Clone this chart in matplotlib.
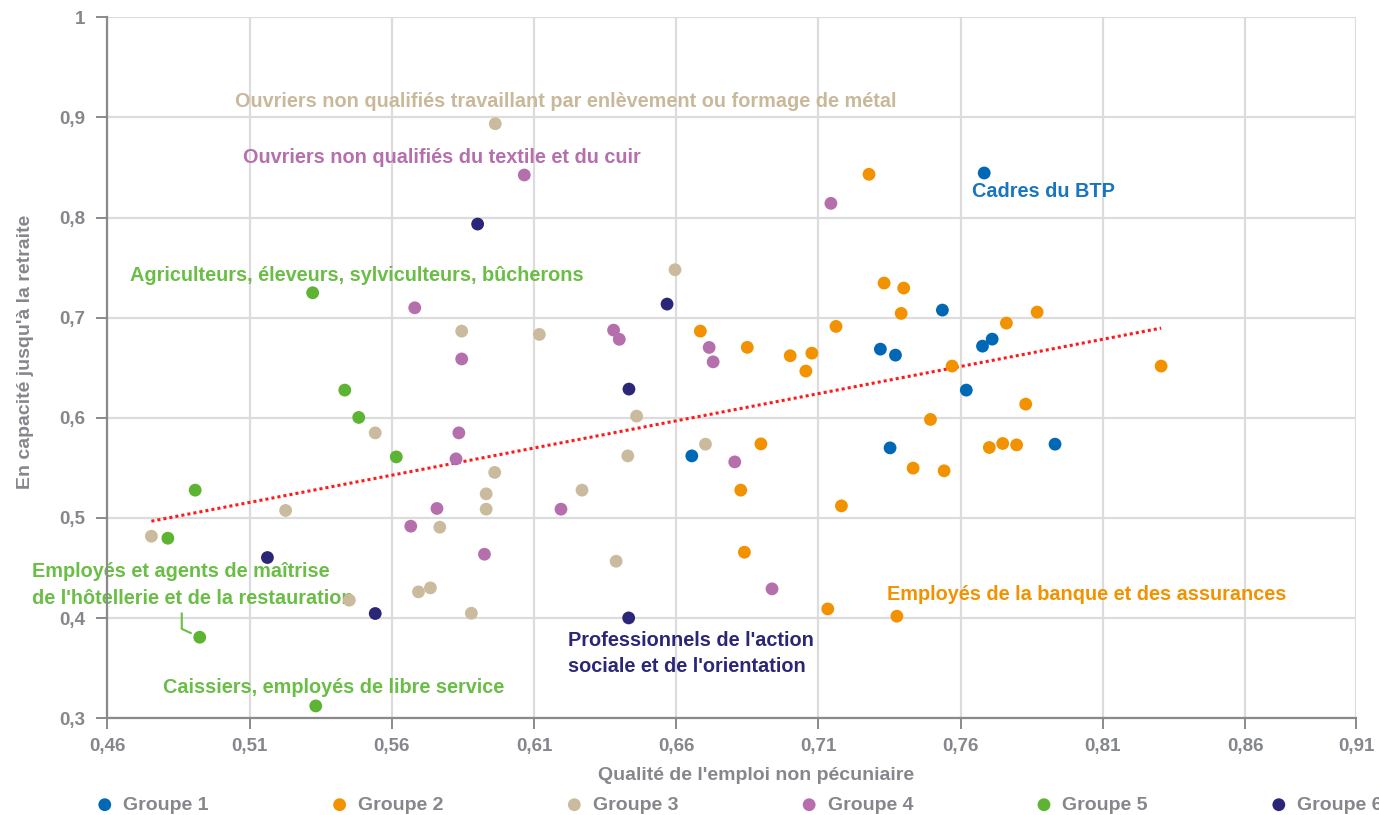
import numpy as np
import matplotlib
matplotlib.use("Agg")
import matplotlib.pyplot as plt

plt.rcParams['font.family'] = ['Liberation Sans', 'DejaVu Sans']

# 1. DATA (qualité de l'emploi, capacité jusqu'à la retraite)
groups = ['Groupe 1', 'Groupe 2', 'Groupe 3', 'Groupe 4', 'Groupe 5', 'Groupe 6']

g1_x = [0.7683, 0.7536, 0.7318, 0.7371, 0.7677, 0.7711, 0.7620, 0.6655, 0.7352, 0.7932]
g1_y = [0.8445, 0.7076, 0.6686, 0.6626, 0.6716, 0.6786, 0.6277, 0.5620, 0.5700, 0.5737]

g2_x = [0.7278, 0.7331, 0.7400, 0.7391, 0.7162, 0.6685, 0.6850, 0.7001, 0.7077,
        0.7056, 0.7570, 0.7761, 0.7869, 0.8305, 0.7829, 0.7494, 0.6898, 0.7701,
        0.7748, 0.7797, 0.7433, 0.7542, 0.6827, 0.7181, 0.6840, 0.7133, 0.7376]
g2_y = [0.8432, 0.7346, 0.7296, 0.7043, 0.6913, 0.6866, 0.6704, 0.6620, 0.6646,
        0.6467, 0.6517, 0.6946, 0.7056, 0.6517, 0.6137, 0.5984, 0.5740, 0.5704,
        0.5744, 0.5730, 0.5498, 0.5471, 0.5278, 0.5121, 0.4658, 0.4092, 0.4019]

g3_x = [0.5964, 0.6596, 0.5846, 0.6119, 0.5542, 0.6461, 0.5962, 0.5932, 0.5932, 0.5769,
        0.6269, 0.6430, 0.6703, 0.5227, 0.4755, 0.5451, 0.5694, 0.5736, 0.5880, 0.6389]
g3_y = [0.8937, 0.7479, 0.6866, 0.6833, 0.5850, 0.6017, 0.5455, 0.5241, 0.5088, 0.4908,
        0.5278, 0.5620, 0.5737, 0.5075, 0.4818, 0.4179, 0.4262, 0.4302, 0.4049, 0.4568]

g4_x = [0.6066, 0.7144, 0.5681, 0.6380, 0.6400, 0.5846, 0.6716, 0.6730,
        0.5836, 0.5826, 0.5759, 0.5667, 0.6195, 0.5926, 0.6806, 0.6937]
g4_y = [0.8425, 0.8142, 0.7099, 0.6876, 0.6784, 0.6588, 0.6703, 0.6559,
        0.5850, 0.5590, 0.5095, 0.4918, 0.5088, 0.4638, 0.5560, 0.4292]

g5_x = [0.5322, 0.5435, 0.5484, 0.5616, 0.4909, 0.4813, 0.4925, 0.5333]
g5_y = [0.7249, 0.6277, 0.6004, 0.5610, 0.5278, 0.4798, 0.3809, 0.3123]

g6_x = [0.5902, 0.6568, 0.6434, 0.5163, 0.5542, 0.6433]
g6_y = [0.7935, 0.7136, 0.6287, 0.4605, 0.4046, 0.4002]

# trend line values at the lowest and highest x of the data
trend_y = [0.4968, 0.6896]

xticks = [0.46, 0.51, 0.56, 0.61, 0.66, 0.71, 0.76, 0.81, 0.86, 0.899]
xtick_labels = ['0,46', '0,51', '0,56', '0,61', '0,66', '0,71', '0,76', '0,81', '0,86', '0,91']
yticks = [0.3, 0.4, 0.5, 0.6, 0.7, 0.8, 0.9, 1.0]
ytick_labels = ['0,3', '0,4', '0,5', '0,6', '0,7', '0,8', '0,9', '1']

colors = ['#0068b4', '#f39200', '#cbbb9e', '#b66fad', '#5db332', '#2c2679']
grey = '#85878c'

# 2. FIGURE SETUP
fig = plt.figure(figsize=(13.79, 8.15), dpi=100)
ax = fig.add_axes([0.0778, 0.1187, 0.9055, 0.8601])
ax.set_xlim(0.46, 0.899)
ax.set_ylim(0.3, 1.0)
ax.set_xticks(xticks)
ax.set_xticklabels(xtick_labels)
ax.set_yticks(yticks)
ax.set_yticklabels(ytick_labels)
ax.grid(True, color='#dcdcdc', lw=1.6, zorder=0)
ax.set_axisbelow(True)
for s in ['top', 'right']:
    ax.spines[s].set_visible(False)
for s in ['left', 'bottom']:
    ax.spines[s].set_color('#8a8a8a')
    ax.spines[s].set_linewidth(1.6)
ax.tick_params(axis='both', colors='#8a8a8a', width=1.4, length=8,
               labelcolor=grey, labelsize=13.5)
ax.tick_params(axis='y', pad=8)
ax.tick_params(axis='x', pad=6)
for lab in ax.get_xticklabels() + ax.get_yticklabels():
    lab.set_fontweight('bold')

# 3. POINTS
xs = [g1_x, g2_x, g3_x, g4_x, g5_x, g6_x]
ys = [g1_y, g2_y, g3_y, g4_y, g5_y, g6_y]
handles = []
for gx, gy, c, name in zip(xs, ys, colors, groups):
    h = ax.scatter(gx, gy, s=85, color=c, edgecolors='none', zorder=3, label=name)
    handles.append(h)

# trend line over the range of the data
all_x = np.concatenate([np.array(v) for v in xs])
tx = [all_x.min(), all_x.max()]
ax.plot(tx, trend_y, color='#ff1a1a', lw=2.2, linestyle=(0, (1, 1)), zorder=2)

# 4. ANNOTATIONS
fs = 14.3
ax.text(0.5049, 0.9157, "Ouvriers non qualifiés travaillant par enlèvement ou formage de métal",
        color='#c9b99b', fontsize=fs, fontweight='bold', va='center', ha='left', zorder=2)
ax.text(0.5076, 0.8601, "Ouvriers non qualifiés du textile et du cuir",
        color='#b66fad', fontsize=fs, fontweight='bold', va='center', ha='left', zorder=2)
ax.text(0.7639, 0.8265, "Cadres du BTP",
        color='#1a75bf', fontsize=fs, fontweight='bold', va='center', ha='left', zorder=2)
ax.text(0.4680, 0.7423, "Agriculteurs, éleveurs, sylviculteurs, bûcherons",
        color='#6abd45', fontsize=fs, fontweight='bold', va='center', ha='left', zorder=2)
ax.annotate("Employés et agents de maîtrise\nde l'hôtellerie et de la restauration",
            xy=(g5_x[6], g5_y[6]), xytext=(0.4336, 0.4331), textcoords='data',
            color='#6abd45', fontsize=fs, fontweight='bold', va='center', ha='left',
            linespacing=1.5, zorder=2, annotation_clip=False,
            arrowprops=dict(arrowstyle='-', color='#6abd45', lw=1.5, relpos=(0.465, 0.0),
                            connectionstyle='angle,angleA=-90,angleB=155,rad=0',
                            shrinkA=2, shrinkB=7))
ax.text(0.4797, 0.3303, "Caissiers, employés de libre service",
        color='#6abd45', fontsize=fs, fontweight='bold', va='center', ha='left', zorder=2)
ax.text(0.6221, 0.3649, "Professionnels de l'action\nsociale et de l'orientation",
        color='#2c2679', fontsize=fs, fontweight='bold', va='center', ha='left',
        linespacing=1.5, zorder=2)
ax.text(0.7342, 0.4236, "Employés de la banque et des assurances",
        color='#f39200', fontsize=fs, fontweight='bold', va='center', ha='left', zorder=2)

# 5. AXIS LABELS + LEGEND
fig.text(756 / 1379, 1 - 775 / 815, "Qualité de l'emploi non pécuniaire",
         color=grey, fontsize=14, fontweight='bold', ha='center', va='center')
fig.text(26 / 1379, 1 - 352 / 815, "En capacité jusqu'à la retraite",
         color=grey, fontsize=14, fontweight='bold', ha='center', va='center', rotation=90)

leg = fig.legend(handles=handles, labels=groups, ncol=6, loc='center left',
                 bbox_to_anchor=(97 / 1379, 1 - 805 / 815), frameon=False,
                 fontsize=14, handlelength=0.8, handletextpad=0.55,
                 columnspacing=6.33, borderpad=0, borderaxespad=0, scatterpoints=1)
for t in leg.get_texts():
    t.set_color(grey)
    t.set_fontweight('bold')

fig.savefig('out.png', dpi=100)
